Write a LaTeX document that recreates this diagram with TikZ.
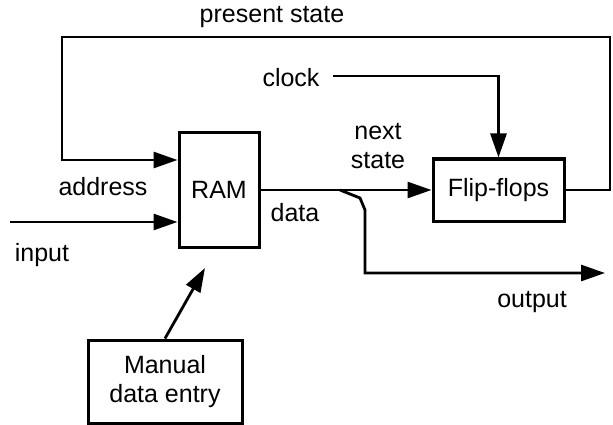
\documentclass[tikz,border=0pt]{standalone}
\usepackage{fontspec}
\setmainfont{Liberation Sans}
\usetikzlibrary{arrows.meta}
\begin{document}
\begin{tikzpicture}[x=1pt,y=-1pt,
  font=\fontsize{25}{29}\selectfont,
  wire/.style={line width=2.8pt,line join=miter},
  arr/.style={wire,-{Triangle[length=24pt,width=16pt]}},
  blk/.style={draw,line width=3pt,rectangle,inner sep=0pt,align=center},
  lbl/.style={inner sep=0pt,align=center}]
\useasboundingbox (0,0) rectangle (613,425);

% blocks
\node[blk,minimum width=80pt,minimum height=114pt] (ram) at (219,190) {RAM};
\node[blk,minimum width=131pt,minimum height=62pt] (ff) at (498.5,190) {Flip-flops};
\node[blk,minimum width=154pt,minimum height=83pt] (man) at (165,381.5) {Manual\\data entry};

% labels
\node[lbl] (lps) at (272,17) {present state};
\node[lbl] (lclk) at (291,78) {clock};
\node[lbl] (laddr) at (103,187) {address};
\node[lbl] (lin) at (42,255) {input};
\node[lbl] (ldata) at (295,213) {data};
\node[lbl] (lnext) at (378,146) {next\\state};
\node[lbl] (lout) at (532,302) {output};

% helper points
\coordinate (psR) at (610,37);
\coordinate (psL) at (62,37);
\coordinate (inS) at (10,222);
\coordinate (clkS) at (333,76);
\coordinate (br) at (340,190);
\coordinate (outE) at (605,273);
\coordinate (mtip) at (205,268);

% present-state feedback loop
\draw[arr] (ff.east) -| (psR) -- (psL) |- ([yshift=30pt]ram.west);
% external input
\draw[arr] (inS) -- ([yshift=-32pt]ram.west);
% clock
\draw[arr] (clkS) -| (ff.north);
% next state
\draw[arr] (ram.east) -- (ff.west);
% output branch
\draw[arr] (br) -- (360,198) -- (365,210) -- (365,273) -- (outE);
% manual entry
\draw[arr] (man.north) -- (mtip);
\end{tikzpicture}
\end{document}
